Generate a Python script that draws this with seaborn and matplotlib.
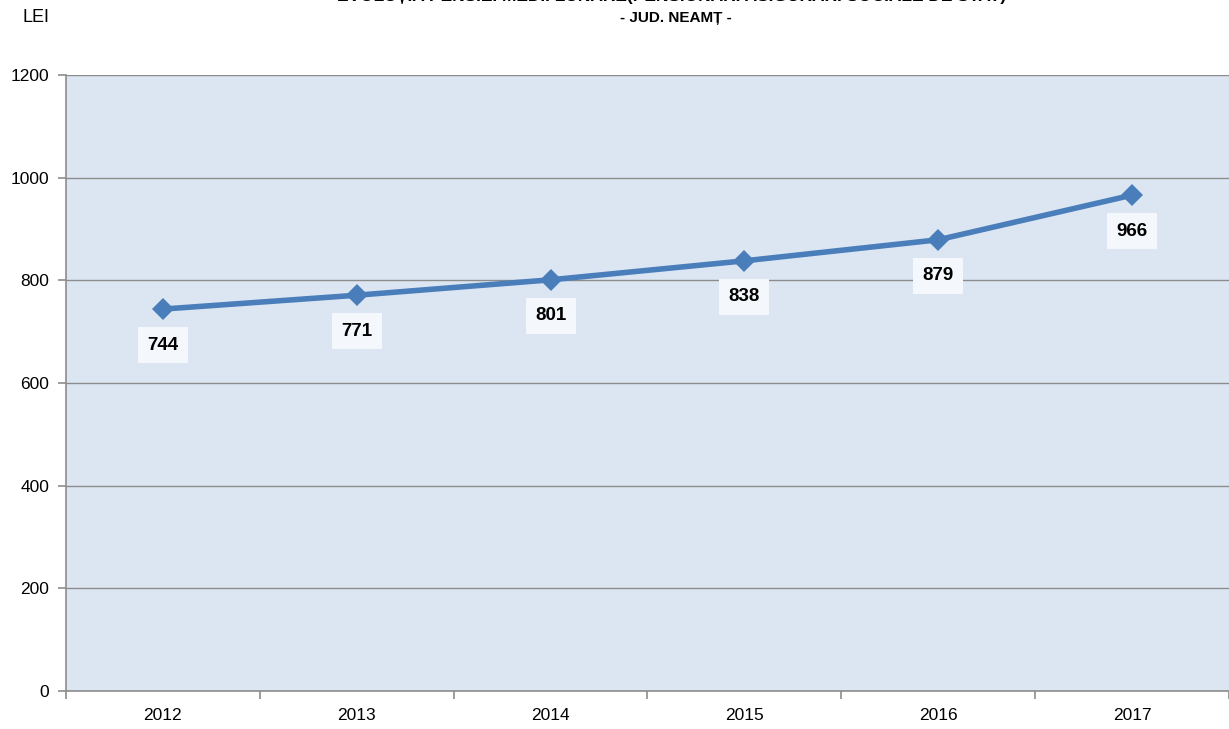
import seaborn as sns
import pandas
import matplotlib
import matplotlib.pyplot as plt

matplotlib.use("Agg")

years = ["2012", "2013", "2014", "2015", "2016", "2017"]
pension = [744, 771, 801, 838, 879, 966]
y_ticks = [0, 200, 400, 600, 800, 1000, 1200]

title_top = "EVOLUȚIA PENSIEI MEDII LUNARE(PENSIONARI ASIGURARI SOCIALE DE STAT)"
title_sub = "- JUD. NEAMȚ -"
unit_label = "LEI"

sns.set_style("white")
plt.rcParams["font.family"] = ["Liberation Sans Narrow", "Liberation Sans", "DejaVu Sans"]

data = pandas.DataFrame({"year": years, "pension": pension})
data["pos"] = range(len(years))

fig = plt.figure(figsize=(12.29, 7.29), dpi=100)
ax = fig.add_axes([66 / 1229, 38 / 729, 1163 / 1229, 616 / 729])
ax.set_facecolor("#DCE6F2")

sns.lineplot(data=data, x="pos", y="pension", ax=ax, color="#4A7EBB",
             linewidth=4, marker="D", markersize=11, markeredgewidth=0, zorder=3)

for x, v in zip(data["pos"], data["pension"]):
    ax.annotate(str(v), (x, v), xytext=(0, -26), textcoords="offset points",
                ha="center", va="center", fontsize=13.5, fontweight="bold",
                color="black",
                bbox=dict(boxstyle="square,pad=0.5", fc="#F4F7FB", ec="none"))

ax.set_xlim(-0.5, len(years) - 0.5)
ax.set_ylim(0, 1200)
ax.set_yticks(y_ticks)
ax.set_yticklabels([str(t) for t in y_ticks], fontsize=12.5, color="black")
ax.yaxis.grid(True, color="#8C8C8C", linewidth=1)
ax.set_axisbelow(True)

# category labels centered, ticks on category boundaries
ax.set_xticks(data["pos"])
ax.set_xticklabels(years, fontsize=12.5, color="black")
ax.tick_params(axis="x", which="major", length=0, pad=12, bottom=True)
ax.set_xticks([i - 0.5 for i in range(len(years) + 1)], minor=True)
ax.tick_params(axis="x", which="minor", length=6, width=1.2, color="#8C8C8C",
               direction="out", bottom=True)
ax.tick_params(axis="y", length=6, width=1.2, color="#8C8C8C", direction="out",
               left=True, pad=6)

for side in ["top", "right"]:
    ax.spines[side].set_visible(False)
for side in ["left", "bottom"]:
    ax.spines[side].set_color("#8C8C8C")
    ax.spines[side].set_linewidth(1.2)

ax.set_xlabel("")
ax.set_ylabel("")

fig.text(672 / 1229, 1.005, title_top, ha="center", va="center",
         fontsize=12.5, fontweight="bold", color="black")
fig.text(676 / 1229, 1 - 18 / 729, title_sub, ha="center", va="center",
         fontsize=11, fontweight="bold", color="black")
fig.text(36 / 1229, 1 - 18 / 729, unit_label, ha="center", va="center",
         fontsize=13, color="black")

fig.savefig("out.png", dpi=100)
